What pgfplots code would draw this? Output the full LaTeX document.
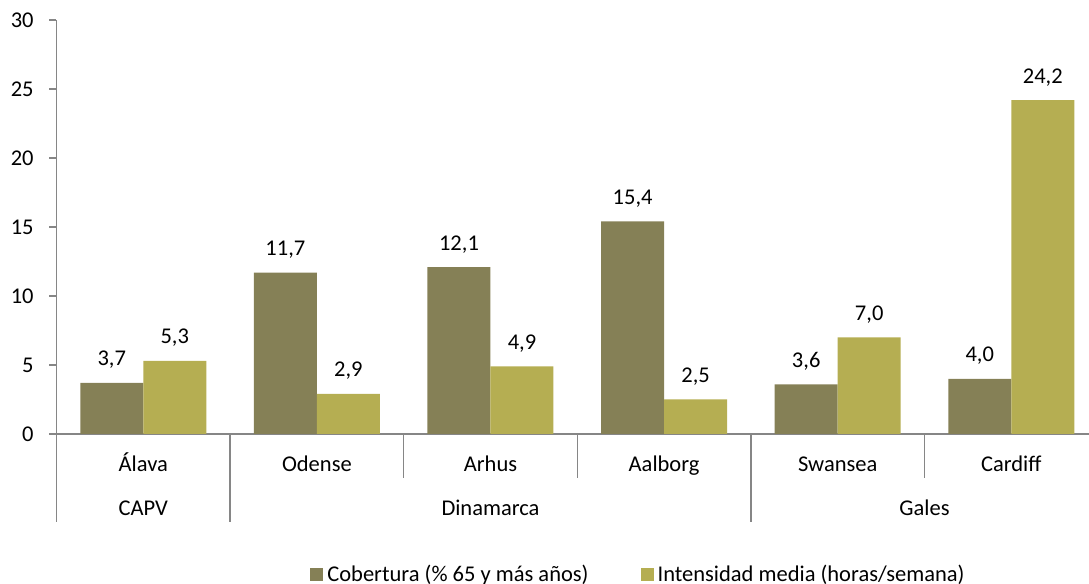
\documentclass[border=0pt]{standalone}
\usepackage{fontspec}
\setmainfont{Carlito}
\usepackage{pgfplots}
\pgfplotsset{compat=1.18}
\definecolor{cobertura}{RGB}{133,128,86}
\definecolor{intensidad}{RGB}{181,174,82}
\definecolor{ejes}{RGB}{134,134,134}

\begin{document}
\begin{tikzpicture}
\fontsize{11.25}{13.5}\selectfont
\begin{axis}[
  at={(28.25pt,75pt)}, anchor=south west,
  scale only axis, width=520.8pt, height=207pt,
  font=\fontsize{11.25}{13.5}\selectfont,
  /pgf/number format/assume math mode=true,
  clip=false,
  axis lines*=left,
  axis line style={ejes, line width=0.75pt},
  xmin=-0.5, xmax=5.5, ymin=0, ymax=30,
  ytick={0,5,...,30},
  ytick style={ejes, line width=0.75pt},
  tick align=outside,
  major tick length=3.5pt,
  yticklabel style={anchor=east, inner sep=0pt, xshift=-7.75pt},
  xtick={0,1,2,3,4,5},
  xticklabels={Álava, Odense, Arhus, Aalborg, Swansea, Cardiff},
  x tick style={draw=none},
  xticklabel style={anchor=base, inner sep=0pt, yshift=-15.5pt},
  ybar=0pt, bar width=31.5pt,
  nodes near coords={\pgfmathprintnumber[fixed,fixed zerofill,precision=1,use comma]{\pgfplotspointmeta}},
  every node near coord/.append style={anchor=base, inner sep=0pt, yshift=8.5pt, text=black},
  legend style={draw=none, fill=none, at={(0.5597,-0.340)}, anchor=center,
    legend columns=2, inner sep=0pt,
    /tikz/every even column/.append style={column sep=24pt}},
  legend cell align=left,
  legend image code/.code={\fill[#1] (0pt,-3.25pt) rectangle (6.5pt,3.25pt);},
]
\addplot[fill=cobertura, draw=none] coordinates {(0,3.7) (1,11.7) (2,12.1) (3,15.4) (4,3.6) (5,4.0)};
\addplot[fill=intensidad, draw=none] coordinates {(0,5.3) (1,2.9) (2,4.9) (3,2.5) (4,7.0) (5,24.2)};
\legend{Cobertura (\% 65 y más años), Intensidad media (horas/semana)}

% dividers between cities (short) and between regions (long)
\draw[ejes, line width=0.75pt] (axis cs:1.5,0) -- ++(0pt,-22pt);
\draw[ejes, line width=0.75pt] (axis cs:2.5,0) -- ++(0pt,-22pt);
\draw[ejes, line width=0.75pt] (axis cs:4.5,0) -- ++(0pt,-22pt);
\draw[ejes, line width=0.75pt] (axis cs:-0.5,0) -- ++(0pt,-44pt);
\draw[ejes, line width=0.75pt] (axis cs:0.5,0) -- ++(0pt,-44pt);
\draw[ejes, line width=0.75pt] (axis cs:3.5,0) -- ++(0pt,-44pt);

% region names
\node[anchor=base, inner sep=0pt, yshift=-41pt] at (axis cs:0,0) {CAPV};
\node[anchor=base, inner sep=0pt, yshift=-41pt] at (axis cs:2,0) {Dinamarca};
\node[anchor=base, inner sep=0pt, yshift=-41pt] at (axis cs:4.5,0) {Gales};
\end{axis}
\pgfresetboundingbox
\path[use as bounding box] (0,0) rectangle (544.5pt,292pt);
\end{tikzpicture}
\end{document}
